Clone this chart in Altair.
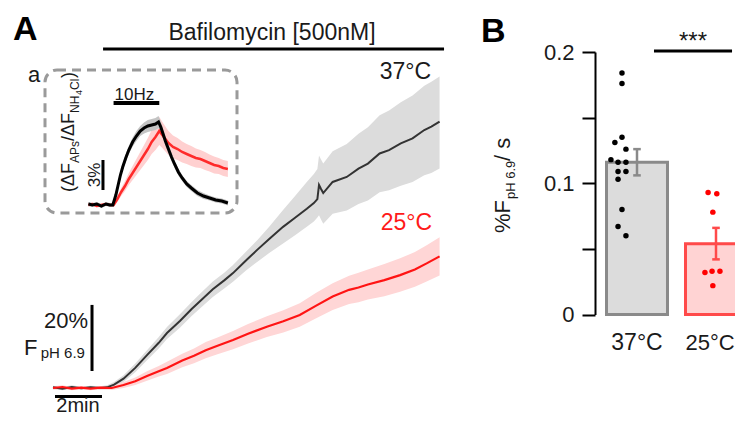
import altair as alt
import pandas as pd

FONT = "Liberation Sans"

# ---------------- Panel A: main time courses (time in min, % F pH 6.9) -------------
gray_t = [0.0, 0.4, 0.8, 1.2, 1.6, 2.0, 2.3, 2.6, 3.0, 3.5, 4.0, 4.5, 4.85, 5.4, 5.9, 6.3, 6.8,
          7.3, 7.66, 8.2, 8.7, 9.2, 9.79, 10.3, 10.8, 11.1, 11.25, 11.32, 11.4, 11.5, 11.9,
          12.5, 13.0, 13.4, 13.9, 14.3, 14.8, 15.3, 15.8, 16.1, 16.45]
gray_v = [0.2, -0.2, 0.3, -0.1, 0.2, 0.0, 0.2, 1.0, 2.8, 6.0, 9.8, 13.5, 16.4, 20.0, 23.6, 26.2, 29.5,
          32.2, 34.3, 38.0, 41.3, 44.5, 48.1, 50.8, 53.5, 55.2, 56.4, 60.6, 59.5, 58.2, 61.5,
          63.0, 65.5, 67.0, 70.0, 71.0, 73.0, 74.5, 77.0, 78.0, 79.5]
# upper / lower extent of the grey SEM band (in %)
gray_up = [0.5, 0.5, 0.5, 0.5, 0.5, 0.5, 0.6, 0.8, 1.0, 1.3, 1.5, 1.7, 1.8, 2.0, 2.1, 2.2, 2.3,
           2.3, 2.4, 2.6, 2.9, 3.6, 5.0, 6.5, 8.0, 8.7, 9.0, 8.8, 8.8, 8.8, 9.2,
           9.8, 10.4, 10.8, 11.4, 11.8, 12.3, 12.8, 13.2, 13.4, 13.5]
gray_dn = [0.5, 0.5, 0.5, 0.5, 0.5, 0.5, 0.6, 0.8, 1.0, 1.3, 1.5, 1.7, 1.8, 2.0, 2.1, 2.2, 2.3,
           2.4, 2.6, 3.0, 3.6, 4.2, 5.0, 5.2, 5.4, 5.5, 5.5, 9.0, 9.1, 9.2, 9.5,
           10.0, 10.6, 11.0, 11.6, 12.0, 12.6, 13.0, 13.5, 13.8, 14.0]

red_t = [0.0, 0.4, 0.8, 1.2, 1.6, 2.0, 2.5, 3.0, 3.5, 4.0, 4.5, 4.85, 5.5, 6.0, 6.5, 7.0, 7.66,
         8.3, 9.1, 9.8, 10.5, 11.2, 11.9, 12.6, 13.0, 13.4, 14.1, 14.77, 15.4, 15.9, 16.45]
red_v = [0.0, 0.3, -0.2, 0.1, -0.2, 0.1, 0.0, 0.9, 2.0, 3.6, 5.0, 6.0, 8.2, 9.6, 11.3, 12.6, 14.3,
         16.2, 18.3, 19.9, 21.8, 24.6, 27.3, 29.3, 30.0, 30.9, 32.2, 33.7, 35.4, 37.2, 39.3]
red_sem = [0.5, 0.5, 0.5, 0.5, 0.5, 0.5, 0.6, 0.9, 1.1, 1.4, 1.6, 1.8, 2.0, 2.2, 2.4, 2.5, 2.7,
           2.9, 3.1, 3.3, 3.5, 3.8, 4.0, 4.2, 4.4, 4.5, 4.8, 5.0, 5.2, 5.4, 5.7]

# ---------------- Inset a: 10 Hz response (time in s, % dF_APs / dF_NH4Cl) ----------
ins_black_t = [-33, -28, -22, -16, -10, -5, -1, 3, 6, 9, 12, 16, 20, 25, 30, 35, 40, 45, 50, 55,
               59, 62, 65, 68, 72, 76, 80, 85, 90, 96, 102, 110, 118, 126, 134, 142, 150]
ins_black_v = [0.1, 0.0, 0.1, -0.1, 0.1, 0.0, 0.0, 1.0, 2.0, 3.0, 3.8, 4.7, 5.5, 6.3, 6.9, 7.4, 7.7,
               7.9, 8.0, 8.1, 8.3, 7.8, 7.1, 6.4, 5.6, 4.8, 4.1, 3.3, 2.7, 2.1, 1.7, 1.2, 0.9, 0.7,
               0.5, 0.4, 0.2]
ins_black_sem = [0.2, 0.2, 0.2, 0.2, 0.2, 0.2, 0.2, 0.3, 0.3, 0.3, 0.35, 0.4, 0.4, 0.45, 0.5, 0.5,
                 0.55, 0.6, 0.6, 0.6, 0.6, 0.55, 0.5, 0.5, 0.45, 0.4, 0.4, 0.35, 0.3, 0.3, 0.3,
                 0.3, 0.3, 0.25, 0.25, 0.25, 0.25]

ins_red_t = [-33, -28, -22, -16, -10, -5, 0, 5, 10, 15, 20, 25, 30, 35, 40, 45, 50, 55, 60, 64,
             68, 72, 78, 84, 90, 96, 102, 108, 114, 120, 126, 132, 138, 144, 150]
ins_red_v = [0.0, 0.1, -0.1, 0.0, 0.1, 0.0, 0.0, 0.6, 1.3, 1.9, 2.6, 3.2, 3.8, 4.4, 5.0, 5.6, 6.3,
             6.8, 7.4, 7.0, 6.6, 6.2, 5.8, 5.6, 5.3, 5.1, 4.9, 4.7, 4.6, 4.4, 4.2, 4.0, 3.9, 3.7, 3.6]
ins_red_sem = [0.15, 0.15, 0.15, 0.15, 0.15, 0.15, 0.2, 0.3, 0.4, 0.5, 0.6, 0.7, 0.8, 0.9, 1.0,
               1.1, 1.2, 1.3, 1.4, 1.3, 1.25, 1.2, 1.15, 1.1, 1.05, 1.0, 1.0, 0.95, 0.9, 0.9,
               0.85, 0.85, 0.8, 0.8, 0.8]

# ---------------- Panel B: rates ----------------
groups = ["37°C", "25°C"]
group_pos = [1, 2]
group_mean = [0.116, 0.054]
group_sem = [0.010, 0.012]
pts_37 = [0.184, 0.176, 0.135, 0.131, 0.126, 0.118, 0.116, 0.116, 0.109, 0.109, 0.103, 0.080,
          0.067, 0.060]
jit_37 = [-0.19, -0.19, -0.19, -0.28, -0.14, -0.33, -0.24, -0.14, -0.24, -0.14, -0.24, -0.19,
          -0.24, -0.14]
pts_25 = [0.093, 0.092, 0.078, 0.032, 0.033, 0.033, 0.022]
jit_25 = [-0.10, 0.01, -0.04, -0.14, -0.05, 0.05, -0.04]

# ---------------- scales (each sub-panel has its own, placed by range) -------------
sxA = alt.Scale(domain=[0, 16.5], range=[45, 432.75], nice=False, zero=False)
syA = alt.Scale(domain=[0, 100], range=[380, 45], nice=False, zero=False)
sxI = alt.Scale(domain=[-90, 162], range=[37, 229], nice=False, zero=False)
syI = alt.Scale(domain=[-0.8, 13.5], range=[205, 62], nice=False, zero=False)
sxB = alt.Scale(domain=[1, 2], range=[629, 708], nice=False, zero=False)
syB = alt.Scale(domain=[0, 0.2], range=[306.5, 44], nice=False, zero=False)

axB = alt.Axis(orient="left", offset=-587, values=[0, 0.05, 0.1, 0.15, 0.2],
               labelExpr="round(datum.value*100) % 10 == 0 ? (datum.value == 0 ? '0' : format(datum.value, '.1f')) : ''",
               title=None, grid=False, domainColor="black", domainWidth=2, tickColor="black",
               tickWidth=2, tickSize=13, labelFont=FONT, labelFontSize=22, labelColor="#1a1a1a",
               labelPadding=8)


def X(field, sc):
    return alt.X(field, type="quantitative", scale=sc, axis=None)


def Y(field, sc, axis=None):
    if axis is None:
        return alt.Y(field, type="quantitative", scale=sc, axis=None)
    return alt.Y(field, type="quantitative", scale=sc, axis=axis)


def label(text, x, y, sx, sy, yaxis=None, **mk):
    df = pd.DataFrame({"x": [x], "y": [y], "label": [text]})
    return alt.Chart(df).mark_text(font=FONT, **mk).encode(
        x=X("x", sx), y=Y("y", sy, yaxis), text=alt.Text("label:N"))


def hbar(x1, x2, y, sx, sy, width=3, color="black", yaxis=None):
    df = pd.DataFrame({"x": [x1], "x2": [x2], "y": [y]})
    return alt.Chart(df).mark_rule(color=color, strokeWidth=width).encode(
        x=X("x", sx), x2="x2", y=Y("y", sy, yaxis))


def vbar(x, y1, y2, sx, sy, width=3, color="black"):
    df = pd.DataFrame({"x": [x], "y": [y1], "y2": [y2]})
    return alt.Chart(df).mark_rule(color=color, strokeWidth=width).encode(
        x=X("x", sx), y=Y("y", sy), y2="y2")


def trace(t, v, up, dn, sx, sy, band_color, line_color, line_width):
    df = pd.DataFrame({"t": t, "v": v, "up": up, "dn": dn})
    base = alt.Chart(df).transform_calculate(lo="datum.v - datum.dn", hi="datum.v + datum.up")
    band = base.mark_area(color=band_color, opacity=1).encode(x=X("t", sx), y=Y("lo", sy), y2="hi")
    line = base.mark_line(color=line_color, strokeWidth=line_width).encode(x=X("t", sx), y=Y("v", sy))
    return band, line


# ---------------- Panel A layers ----------------
g_band, g_line = trace(gray_t, gray_v, gray_up, gray_dn, sxA, syA, "#dcdcdc", "#333333", 2)
r_band, r_line = trace(red_t, red_v, red_sem, red_sem, sxA, syA, "#ffd6d6", "#ff1414", 2.2)

panelA = alt.layer(
    g_band, r_band, g_line, r_line,
    label("A", -1.70, 103.9, sxA, syA, fontSize=34, fontWeight="bold", align="left", baseline="alphabetic"),
    label("Bafilomycin [500nM]", 9.32, 103.9, sxA, syA, fontSize=23, align="center", baseline="alphabetic", color="#1a1a1a"),
    hbar(2.13, 16.64, 101.2, sxA, syA, width=3),
    label("37°C", 16.09, 92.2, sxA, syA, fontSize=23, align="right", baseline="alphabetic", color="#1a1a1a"),
    label("25°C", 16.13, 47.2, sxA, syA, fontSize=23, align="right", baseline="alphabetic", color="#ff1a1a"),
    vbar(1.66, 5.07, 24.8, sxA, syA, width=3),
    label("20%", 1.49, 17.9, sxA, syA, fontSize=22, align="right", baseline="alphabetic", color="#1a1a1a"),
    label("F", -0.66, 9.85, sxA, syA, fontSize=22, align="right", baseline="alphabetic", color="#1a1a1a"),
    label("pH 6.9", 1.36, 8.96, sxA, syA, fontSize=15, align="right", baseline="alphabetic", color="#1a1a1a"),
    hbar(0.085, 2.085, -2.5, sxA, syA, width=3),
    label("2min", 1.064, -7.3, sxA, syA, fontSize=20, align="center", baseline="alphabetic", color="#1a1a1a"),
)

# ---------------- Inset layers ----------------
ib_band, ib_line = trace(ins_black_t, ins_black_v, ins_black_sem, ins_black_sem, sxI, syI,
                         "#c4c4c4", "#000000", 3)
ir_band, ir_line = trace(ins_red_t, ins_red_v, ins_red_sem, ins_red_sem, sxI, syI,
                         "#ffd0d0", "#ff2a2a", 2.5)

frame = alt.Chart(pd.DataFrame({"x": [-90], "x2": [162], "y": [-0.8], "y2": [13.5]})).mark_rect(
    fillOpacity=0, stroke="#9a9a9a", strokeWidth=3, strokeDash=[9, 6], cornerRadius=12
).encode(x=X("x", sxI), x2="x2", y=Y("y", syI), y2="y2")

ins_label_pieces = [("(ΔF", 18, 0, 0), ("APs", 12, 29, 5), ("/ΔF", 18, 51, 0),
                    ("NH", 12, 79, 5), ("4", 9, 97, 8), ("Cl", 12, 102, 5), (")", 18, 114, 0)]
ins_label_layers = [label(txt, -52.0, 1.3, sxI, syI, fontSize=fs, angle=270, align="left",
                          baseline="alphabetic", dx=ddx, dy=ddy, color="#1a1a1a")
                    for txt, fs, ddx, ddy in ins_label_pieces]

inset = alt.layer(
    frame, ir_band, ib_band, ir_line, ib_line,
    label("a", -112.3, 12.3, sxI, syI, fontSize=22, align="left", baseline="alphabetic", color="#1a1a1a"),
    hbar(0, 60, 10.2, sxI, syI, width=4),
    label("10Hz", 27.4, 10.5, sxI, syI, fontSize=17, align="center", baseline="alphabetic", color="#1a1a1a"),
    vbar(-13.9, 1.5, 4.5, sxI, syI, width=3),
    label("3%", -17.9, 3.0, sxI, syI, fontSize=17, angle=270, align="center", baseline="alphabetic", color="#1a1a1a"),
    *ins_label_layers,
)

# ---------------- Panel B layers ----------------
bars_df = pd.DataFrame({"group": groups, "pos": group_pos, "mean": group_mean, "sem": group_sem,
                        "fill": ["#dcdcdc", "#ffd3d3"], "stroke": ["#8a8a8a", "#ff4a4a"]})
bars_base = alt.Chart(bars_df).transform_calculate(
    x1="datum.pos - 0.386", x2="datum.pos + 0.386", zero="0",
    lo="datum.mean - datum.sem", hi="datum.mean + datum.sem",
    c1="datum.pos - 0.048", c2="datum.pos + 0.048")

bars = bars_base.mark_rect(strokeWidth=3, clip=True).encode(
    x=X("x1", sxB), x2="x2", y=Y("zero", syB, axB), y2="mean",
    fill=alt.Fill("fill:N", scale=None), stroke=alt.Stroke("stroke:N", scale=None))

err = bars_base.mark_rule(strokeWidth=2.5).encode(
    x=X("pos", sxB), y=Y("lo", syB, axB), y2="hi", color=alt.Color("stroke:N", scale=None))
cap_lo = bars_base.mark_rule(strokeWidth=2.5).encode(
    x=X("c1", sxB), x2="c2", y=Y("lo", syB, axB), color=alt.Color("stroke:N", scale=None))
cap_hi = bars_base.mark_rule(strokeWidth=2.5).encode(
    x=X("c1", sxB), x2="c2", y=Y("hi", syB, axB), color=alt.Color("stroke:N", scale=None))

pts_df = pd.DataFrame({
    "value": pts_37 + pts_25,
    "jit": jit_37 + jit_25,
    "pos": [1] * len(pts_37) + [2] * len(pts_25),
    "col": ["#000000"] * len(pts_37) + ["#ff0000"] * len(pts_25)})
points = alt.Chart(pts_df).transform_calculate(px="datum.pos + datum.jit").mark_circle(
    size=30, opacity=1).encode(x=X("px", sxB), y=Y("value", syB, axB),
                               color=alt.Color("col:N", scale=None))

title_pieces = [("%F", 22, 0, 0), ("pH 6.9", 13, 34, 5), (" / s", 22, 72, 0)]
title_layers = [label(txt, -0.6076, 0.0621, sxB, syB, yaxis=axB, fontSize=fs, angle=270,
                      align="left", baseline="alphabetic", dx=ddx, dy=ddy, color="#1a1a1a")
                for txt, fs, ddx, ddy in title_pieces]

panelB = alt.layer(
    bars, points, err, cap_lo, cap_hi,
    label("B", -0.975, 0.2076, sxB, syB, yaxis=axB, fontSize=34, fontWeight="bold", align="left", baseline="alphabetic"),
    label("***", 1.709, 0.2025, sxB, syB, yaxis=axB, fontSize=24, align="center", baseline="alphabetic", color="#1a1a1a"),
    hbar(1.215, 2.203, 0.2008, sxB, syB, width=3, yaxis=axB),
    label(groups[0], 1, -0.027, sxB, syB, yaxis=axB, fontSize=23, align="center", baseline="alphabetic", color="#1a1a1a"),
    label(groups[1], 1.925, -0.027, sxB, syB, yaxis=axB, fontSize=22, align="center", baseline="alphabetic", color="#1a1a1a"),
    *title_layers,
)

chart = alt.layer(panelA, inset, panelB).resolve_scale(
    x="independent", y="independent"
).properties(
    width=727, height=409, padding=0,
    autosize=alt.AutoSizeParams(type="none"),
    background="white",
).configure_view(stroke=None)

chart.save("out.html", embed_options={"renderer": "svg", "actions": False})
